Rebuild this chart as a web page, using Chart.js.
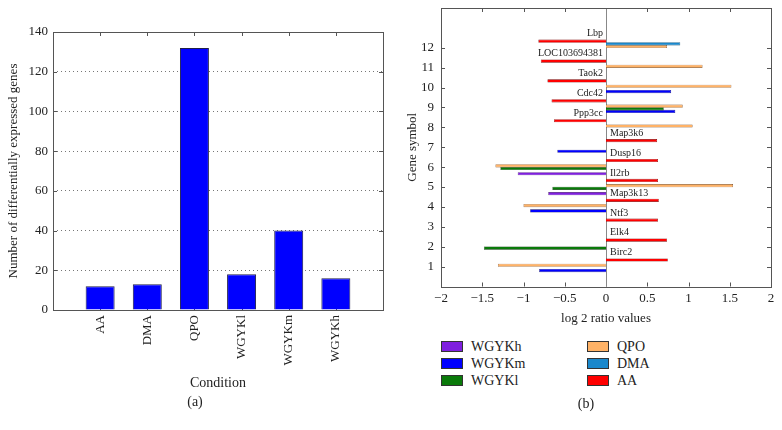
<!DOCTYPE html>
<html>
<head>
<meta charset="utf-8">
<script src="https://cdn.jsdelivr.net/npm/chart.js@4.4.1/dist/chart.umd.min.js"></script>
<style>
	body { margin: 0; background: #fff; }
	#fig { position: relative; width: 782px; height: 430px; font-family: "Liberation Serif", serif; color: #222; }
	#left { position: absolute; left: 0; top: 0; }
	#right { position: absolute; left: 391px; top: 0; }
	.cap { position: absolute; font-size: 14px; transform: translateX(-50%); white-space: nowrap; }
	.leg { position: absolute; font-size: 14px; line-height: 16px; white-space: nowrap; }
	.leg i { position: absolute; left: 0; top: 2px; width: 20px; height: 9px; border: 1px solid #333; }
	.leg span { position: absolute; left: 30px; top: 0; }
</style>
</head>
<body>
<div id="fig">
	<canvas id="left" width="391" height="430"></canvas>
	<canvas id="right" width="391" height="330"></canvas>
	<div class="cap" style="left:195px; top:394px;">(a)</div>
	<div class="cap" style="left:586px; top:396px;">(b)</div>
	<div id="legend"></div>
</div>
<script>
// panel (a): number of differentially expressed genes
const conditions = ['AA', 'DMA', 'QPO', 'WGYKl', 'WGYKm', 'WGYKh'];
const geneCounts = [12, 13, 132, 18, 40, 16];

// panel (b): log2 ratios per gene (null = not shown)
const genes = ['Birc2', 'Elk4', 'Ntf3', 'Map3k13', 'Il2rb', 'Dusp16', 'Map3k6', 'Ppp3cc', 'Cdc42', 'Taok2', 'LOC103694381', 'Lbp'];
const aaValues = [0.75, 0.74, 0.63, 0.64, 0.63, 0.63, 0.62, -0.63, -0.66, -0.71, -0.79, -0.82];
const dmaValues = [null, null, null, null, null, null, null, null, null, null, null, 0.9];
const qpoValues = [-1.31, null, null, -1.0, 1.54, -1.34, null, 1.05, 0.93, 1.52, 1.17, 0.74];
const wgyklValues = [null, -1.48, null, null, -0.65, -1.28, null, null, 0.7, null, null, null];
const wgykmValues = [-0.81, null, null, -0.92, null, null, -0.59, null, 0.84, 0.79, null, null];
const wgykhValues = [null, null, null, null, -0.7, -1.07, null, null, null, null, null, null];
const ratioTicks = [-2, -1.5, -1, -0.5, 0, 0.5, 1, 1.5, 2];

const series = [
	{ label: 'AA', values: aaValues, color: '#ff0000', edge: '#7a0000' },
	{ label: 'DMA', values: dmaValues, color: '#1a88cc', edge: '#0c4466' },
	{ label: 'QPO', values: qpoValues, color: '#ffb266', edge: '#7a4a20' },
	{ label: 'WGYKl', values: wgyklValues, color: '#0a7a0a', edge: '#003300' },
	{ label: 'WGYKm', values: wgykmValues, color: '#0000ff', edge: '#00006a' },
	{ label: 'WGYKh', values: wgykhValues, color: '#7f1fdf', edge: '#3a0c66' },
];

const font = { family: '"Liberation Serif", serif', size: 13 };
const textColor = '#222';

// frame round the plot plus inward tick marks (matlab look)
const framePlugin = {
	id: 'frame',
	beforeDatasetsDraw(chart) {
		const { ctx, chartArea: a, scales } = chart;
		const len = 4;
		ctx.save();
		ctx.strokeStyle = '#555';
		ctx.lineWidth = 1;
		ctx.beginPath();
		scales.x.ticks.forEach((t) => {
			if (t.label === '') return;
			const px = Math.round(scales.x.getPixelForValue(t.value)) + 0.5;
			ctx.moveTo(px, a.top); ctx.lineTo(px, a.top + len);
			ctx.moveTo(px, a.bottom); ctx.lineTo(px, a.bottom - len);
		});
		scales.y.ticks.forEach((t) => {
			if (t.label === '') return;
			const py = Math.round(scales.y.getPixelForValue(t.value)) + 0.5;
			ctx.moveTo(a.left, py); ctx.lineTo(a.left + len, py);
			ctx.moveTo(a.right, py); ctx.lineTo(a.right - len, py);
		});
		ctx.stroke();
		if (chart.options.plugins.frame.zeroLine) {
			const x0 = Math.round(scales.x.getPixelForValue(0)) + 0.5;
			ctx.strokeStyle = '#888';
			ctx.beginPath();
			ctx.moveTo(x0, a.top); ctx.lineTo(x0, a.bottom);
			ctx.stroke();
		}
		ctx.restore();
	},
	afterDatasetsDraw(chart) {
		const { ctx, chartArea: a } = chart;
		ctx.save();
		ctx.strokeStyle = '#555';
		ctx.lineWidth = 1;
		ctx.strokeRect(Math.round(a.left) + 0.5, Math.round(a.top) + 0.5,
			Math.round(a.right - a.left), Math.round(a.bottom - a.top));
		ctx.restore();
	},
};

// gene names written next to the zero line, on the side of the AA bar
const geneLabelPlugin = {
	id: 'geneLabels',
	afterDatasetsDraw(chart) {
		const { ctx, scales: { x, y } } = chart;
		const x0 = x.getPixelForValue(0);
		ctx.save();
		ctx.font = '10px "Liberation Serif", serif';
		ctx.fillStyle = textColor;
		ctx.textBaseline = 'middle';
		genes.forEach((g, i) => {
			const right = aaValues[i] >= 0;
			ctx.textAlign = right ? 'left' : 'right';
			ctx.fillText(g, x0 + (right ? 4 : -3), y.getPixelForValue(i + 1.7));
		});
		ctx.restore();
	},
};

// keep the plot box where the figure has it: no extra label padding
function noPad(s) {
	s.paddingLeft = 0;
	s.paddingRight = 0;
	s.paddingTop = 0;
	s.paddingBottom = 0;
}

new Chart(document.getElementById('left'), {
	type: 'bar',
	data: {
		datasets: [{
			data: conditions.map((c, i) => ({ x: i + 1, y: geneCounts[i] })),
			backgroundColor: '#0000ff',
			borderColor: '#20204a',
			borderWidth: 1,
			categoryPercentage: 1,
			barPercentage: 0.615,
		}],
	},
	options: {
		responsive: false,
		animation: false,
		layout: { padding: { top: 32, right: 8, left: 0, bottom: 0 } },
		plugins: { legend: { display: false }, tooltip: { enabled: false }, frame: { zeroLine: false } },
		scales: {
			x: {
				type: 'linear', min: 0, max: 7, offset: false,
				grid: { display: false, drawTicks: false, offset: false },
				border: { display: false },
				ticks: {
					stepSize: 1, autoSkip: false, minRotation: 90, maxRotation: 90, padding: 5,
					font, color: textColor,
					callback: (v) => conditions[v - 1] || '',
				},
				title: { display: true, text: 'Condition', font: { ...font, size: 14 }, color: textColor, padding: { top: 0, bottom: 38 } },
				afterFit(s) { s.height = 120; noPad(s); },
			},
			y: {
				min: 0, max: 140,
				grid: { color: '#777', drawTicks: false, lineWidth: 1 },
				border: { display: false, dash: [1, 3] },
				ticks: { stepSize: 20, padding: 5, font, color: textColor },
				title: { display: true, text: 'Number of differentially expressed genes', font, color: textColor, padding: { top: 6, bottom: 0 } },
				afterFit(s) { s.width = 53; noPad(s); },
			},
		},
	},
	plugins: [framePlugin],
});

new Chart(document.getElementById('right'), {
	type: 'bar',
	data: {
		datasets: series.map((s) => ({
			label: s.label,
			data: s.values
				.map((v, i) => ({ y: i + 1, x: v }))
				.filter((p) => p.x !== null),
			backgroundColor: s.color,
			borderColor: s.edge,
			borderWidth: 0.6,
			categoryPercentage: 0.8,
			barPercentage: 1.2,
		})),
	},
	options: {
		indexAxis: 'y',
		responsive: false,
		animation: false,
		layout: { padding: { top: 8, right: 11, left: 0, bottom: 0 } },
		plugins: { legend: { display: false }, tooltip: { enabled: false }, frame: { zeroLine: true } },
		scales: {
			x: {
				type: 'linear', min: ratioTicks[0], max: ratioTicks[ratioTicks.length - 1],
				grid: { display: false, drawTicks: false },
				border: { display: false },
				ticks: { stepSize: 0.5, padding: 4, font, color: textColor, callback: (v) => String(v).replace('-', '\u2212') },
				title: { display: true, text: 'log 2 ratio values', font, color: textColor, padding: { top: 0, bottom: 4 } },
				afterFit(s) { s.height = 43.5; noPad(s); },
			},
			y: {
				type: 'linear', min: 0, max: 14, offset: false,
				grid: { display: false, drawTicks: false, offset: false },
				border: { display: false },
				ticks: { stepSize: 1, padding: 7, font, color: textColor, callback: (v) => (v >= 1 && v <= genes.length ? v : '') },
				title: { display: true, text: 'Gene symbol', font, color: textColor, padding: { top: 14, bottom: 0 } },
				afterFit(s) { s.width = 50; noPad(s); },
			},
		},
	},
	plugins: [framePlugin, geneLabelPlugin],
});

// legend in two columns, as in the figure
const legendOrder = [['WGYKh', 'WGYKm', 'WGYKl'], ['QPO', 'DMA', 'AA']];
const legendEl = document.getElementById('legend');
legendOrder.forEach((col, c) => {
	col.forEach((name, r) => {
		const s = series.find((d) => d.label === name);
		const div = document.createElement('div');
		div.className = 'leg';
		div.style.left = (c === 0 ? 441 : 587) + 'px';
		div.style.top = (339 + r * 17) + 'px';
		div.innerHTML = '<i style="background:' + s.color + '"></i><span>' + name + '</span>';
		legendEl.appendChild(div);
	});
});
</script>
</body>
</html>
